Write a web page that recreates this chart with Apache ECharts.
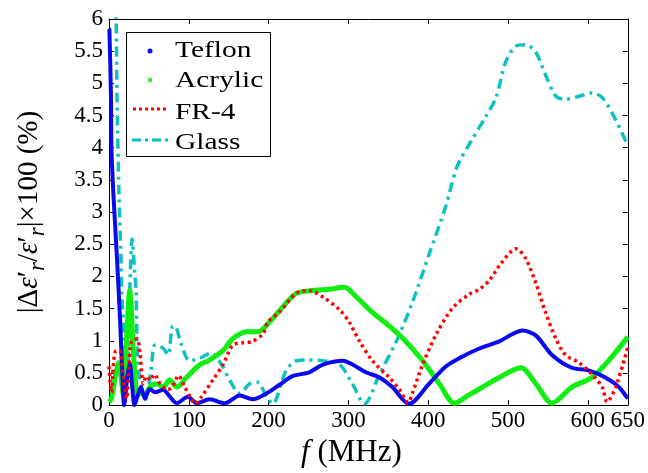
<!DOCTYPE html>
<html>
<head>
<meta charset="utf-8">
<script src="https://cdn.jsdelivr.net/npm/echarts@6/dist/echarts.min.js"></script>
<style>html,body{margin:0;padding:0;background:#fff}#c{width:648px;height:473px}</style>
</head>
<body>
<div id="c"></div>
<script>
// ---- data (frequency in MHz, |Δε'r/ε'r|×100 in %) ----
var teflonF = [0, 0.5, 2.5, 3, 5.5, 10, 14, 16.5, 19, 23, 26, 29, 32, 36, 40, 45, 51, 58, 68, 75, 85, 99, 110, 126, 145, 164, 180, 197, 214, 230, 251, 268, 293, 305, 322, 339, 355, 376, 401, 422, 439, 464, 489, 505, 518, 535, 555, 580, 601, 622, 639, 650];
var teflonV = [5.85, 5.83, 4.78, 4.03, 3.28, 2.28, 1.29, 0.54, 0.0, 0.45, 0.65, 0.3, 0.0, 0.15, 0.28, 0.1, 0.25, 0.2, 0.24, 0.15, 0.03, 0.13, 0.03, 0.09, 0.03, 0.15, 0.09, 0.18, 0.32, 0.45, 0.51, 0.63, 0.69, 0.63, 0.51, 0.43, 0.28, 0.02, 0.33, 0.6, 0.73, 0.88, 0.99, 1.1, 1.16, 1.08, 0.78, 0.58, 0.54, 0.43, 0.28, 0.1];

var acrylicF = [0, 3, 8, 12, 15, 18, 22, 26, 28, 30, 33, 35, 40, 45, 51, 60, 68, 76, 85, 97, 114, 126, 143, 155, 172, 187, 201, 218, 235, 255, 276, 295, 310, 330, 351, 372, 393, 414, 433, 450, 464, 489, 516, 535, 555, 580, 605, 626, 650];
var acrylicV = [0.05, 0.1, 0.45, 0.66, 0.45, 0.15, 1.0, 1.78, 1.5, 0.93, 0.4, 0.13, 0.2, 0.15, 0.28, 0.33, 0.28, 0.39, 0.28, 0.43, 0.63, 0.7, 0.85, 1.03, 1.14, 1.14, 1.29, 1.53, 1.74, 1.78, 1.8, 1.83, 1.68, 1.44, 1.23, 0.99, 0.69, 0.33, 0.03, 0.15, 0.25, 0.43, 0.58, 0.33, 0.03, 0.28, 0.43, 0.69, 1.06];

var fr4F = [0, 3, 6, 9, 14, 18, 22, 25, 28, 35, 39, 43, 47, 52, 57, 64, 74, 80, 87, 95, 103, 108, 116, 130, 143, 155, 168, 180, 193, 199, 214, 235, 251, 268, 289, 301, 314, 330, 351, 364, 375, 380, 393, 410, 430, 451, 464, 476, 493, 510, 522, 535, 547, 560, 572, 589, 605, 618, 624, 635, 650];
var fr4V = [0.6, 0.2, 0.7, 0.85, 0.84, 0.39, 0.1, 0.6, 0.99, 1.03, 0.78, 0.33, 0.45, 0.39, 0.48, 0.33, 0.24, 0.3, 0.46, 0.28, 0.1, 0.02, 0.13, 0.39, 0.63, 0.93, 0.97, 0.99, 1.11, 1.29, 1.45, 1.74, 1.78, 1.68, 1.48, 1.29, 0.99, 0.69, 0.43, 0.24, 0.04, 0.18, 0.63, 1.1, 1.5, 1.72, 1.8, 1.93, 2.23, 2.43, 2.28, 1.89, 1.44, 1.03, 0.78, 0.66, 0.48, 0.28, 0.05, 0.28, 0.9];

var glassF = [7, 9, 10, 12.5, 15, 16, 19, 21, 23, 26, 29, 32, 34, 35, 37, 41, 46, 52, 57, 60, 68, 74, 80, 84, 91, 101, 114, 128, 141, 151, 164, 176, 185, 199, 205, 222, 235, 247, 268, 289, 305, 320, 339, 360, 380, 401, 422, 436, 455, 472, 485, 497, 510, 522, 535, 547, 560, 572, 589, 605, 618, 635, 650];
var glassV = [7, 6, 4.8, 3.3, 2.3, 1.78, 1.03, 0.5, 0.45, 1.8, 2.58, 2.1, 1.78, 1.03, 0.54, 0.28, 0.09, 0.48, 0.93, 0.93, 0.88, 0.78, 1.23, 1.21, 0.93, 0.69, 0.73, 0.81, 0.63, 0.39, 0.18, 0.33, 0.36, 0.1, 0.02, 0.54, 0.69, 0.7, 0.69, 0.63, 0.33, 0.02, 0.48, 0.99, 1.59, 2.34, 3.09, 3.7, 4.13, 4.48, 4.78, 5.33, 5.58, 5.6, 5.48, 5.13, 4.8, 4.75, 4.8, 4.85, 4.78, 4.43, 4.03];

var seriesNames = ['Teflon', 'Acrylic', 'FR-4', 'Glass'];
var xTickMin = 0, xTickMax = 650, xTickStep = 100;
var yTickMin = 0, yTickMax = 6, yTickStep = 0.5;

function pairs(f, v) { return f.map(function (x, i) { return [x, v[i]]; }); }

var FONT = 'Liberation Serif';
var chart = echarts.init(document.getElementById('c'), null, { renderer: 'canvas' });

var commonX = {
  type: 'value', min: xTickMin, max: xTickMax, interval: xTickStep,
  axisLine: { show: true, onZero: false, lineStyle: { color: '#000', width: 1 } },
  axisTick: { show: true, inside: true, length: 5, lineStyle: { color: '#000' } },
  splitLine: { show: false }
};
var commonY = {
  type: 'value', min: yTickMin, max: yTickMax, interval: yTickStep,
  axisLine: { show: true, onZero: false, lineStyle: { color: '#000', width: 1 } },
  axisTick: { show: true, inside: true, length: 5, lineStyle: { color: '#000' } },
  splitLine: { show: false }
};

var legendItems = [];
var ly = [51, 81, 111, 141];
legendItems.push({ type: 'rect', shape: { x: 126.5, y: 32.5, width: 144, height: 124 }, style: { fill: '#fff', stroke: '#000', lineWidth: 1 }, z: 100 });
legendItems.push({ type: 'circle', shape: { cx: 150, cy: ly[0], r: 2.5 }, style: { fill: '#0a0aee' }, z: 101 });
legendItems.push({ type: 'polyline', shape: { points: [[148, 78], [152, 82]] }, style: { stroke: '#00ee00', lineWidth: 1.2 }, z: 101 });
legendItems.push({ type: 'polyline', shape: { points: [[148, 82], [152, 78]] }, style: { stroke: '#00ee00', lineWidth: 1.2 }, z: 101 });
legendItems.push({ type: 'line', shape: { x1: 133, y1: 109, x2: 167, y2: 109 }, style: { stroke: '#ff0000', lineWidth: 3, lineDash: [3, 3] }, z: 101 });
legendItems.push({ type: 'line', shape: { x1: 132, y1: 140, x2: 168, y2: 140 }, style: { stroke: '#00bfbf', lineWidth: 3, lineDash: [9, 4, 3, 4] }, z: 101 });
seriesNames.forEach(function (n, i) {
  legendItems.push({ type: 'text', x: 175, y: ly[i] + (i >= 2 ? 2 : 0), scaleX: 1.28, originX: 0, originY: 0, z: 102,
    style: { text: n, fontFamily: FONT, fontSize: 23, fill: '#000', verticalAlign: 'middle', align: 'left' } });
});

var option = {
  animation: false,
  backgroundColor: '#fff',
  grid: { left: 109, right: 19, top: 19, bottom: 54, containLabel: false },
  xAxis: [
    Object.assign({}, commonX, {
      position: 'bottom',
      axisLabel: { show: true, color: '#000', fontFamily: FONT, fontSize: 23, margin: 4 },
      name: '{i|f} (MHz)', nameLocation: 'middle', nameGap: 22,
      nameTextStyle: { color: '#000', fontFamily: FONT, fontSize: 31, padding: [0, 34, 0, 0],
        rich: { i: { fontFamily: FONT, fontSize: 31, fontStyle: 'italic', color: '#000' } } }
    }),
    Object.assign({}, commonX, { position: 'top', axisLabel: { show: false } })
  ],
  yAxis: [
    Object.assign({}, commonY, {
      position: 'left',
      axisLabel: { show: true, color: '#000', fontFamily: FONT, fontSize: 23, margin: 6 },
      name: '|Δ{e|ε}′{s|r}/{e|ε}′{s|r}|×100 (%)', nameLocation: 'middle', nameGap: 60,
      nameTextStyle: { color: '#000', fontFamily: FONT, fontSize: 29,
        rich: {
          e: { fontFamily: FONT, fontSize: 29, fontStyle: 'italic', color: '#000' },
          s: { fontFamily: FONT, fontSize: 23, fontStyle: 'italic', color: '#000', padding: [16, 0, 0, 0] }
        } }
    }),
    Object.assign({}, commonY, { position: 'right', axisLabel: { show: false } })
  ],
  series: [
    { name: seriesNames[0], type: 'line', xAxisIndex: 0, yAxisIndex: 0, data: pairs(teflonF, teflonV), showSymbol: false, smooth: 0.3, clip: true,
      lineStyle: { color: '#0a0aee', width: 4 }, z: 4 },
    { name: seriesNames[1], type: 'line', xAxisIndex: 0, yAxisIndex: 0, data: pairs(acrylicF, acrylicV), showSymbol: false, smooth: 0.3, clip: true,
      lineStyle: { color: '#11ee11', width: 5 }, z: 3 },
    { name: seriesNames[2], type: 'line', xAxisIndex: 0, yAxisIndex: 0, data: pairs(fr4F, fr4V), showSymbol: false, smooth: 0.3, clip: true,
      lineStyle: { color: '#ff0000', width: 3.5, type: [3, 3.5] }, z: 5 },
    { name: seriesNames[3], type: 'line', xAxisIndex: 0, yAxisIndex: 0, data: pairs(glassF, glassV), showSymbol: false, smooth: 0.3, clip: true,
      lineStyle: { color: '#11c0c0', width: 3.5, type: [10, 5, 3, 5] }, z: 2 }
  ],
  graphic: legendItems
};
chart.setOption(option);
</script>
</body>
</html>
